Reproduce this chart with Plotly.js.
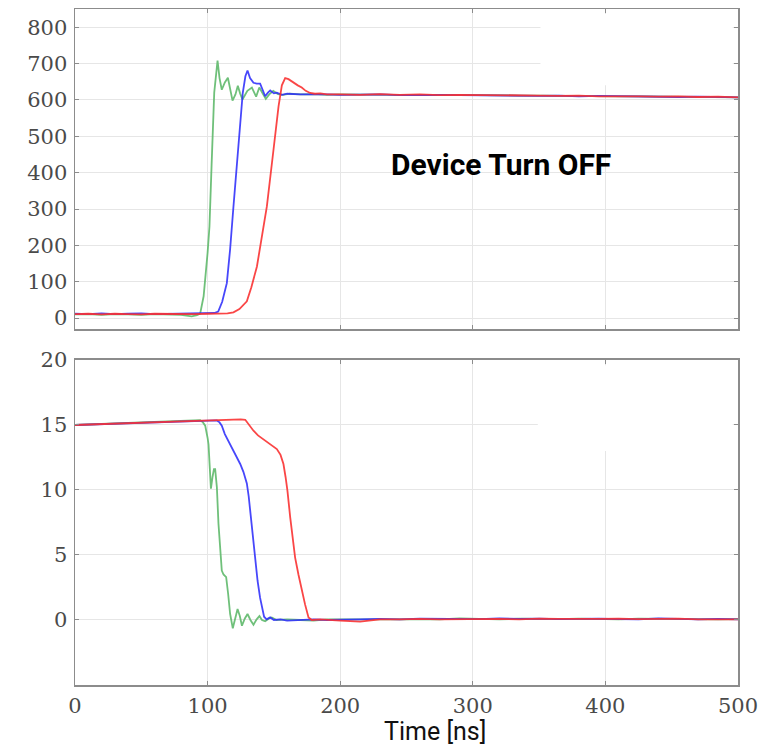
<!DOCTYPE html>
<html>
<head>
<meta charset="utf-8">
<script src="https://cdn.plot.ly/plotly-3.0.1.min.js"></script>
<style>html,body{margin:0;padding:0;background:#fff;}#chart{width:759px;height:748px;}</style>
</head>
<body>
<div id="chart"></div>
<script>
// ---------- Top panel (drain voltage, V) ----------
const tGreenTop = [0,10,20,30,40,50,60,70,80,88,92,94.4,97,100,101.4,103,105,107.5,109,110.7,113,115.3,117,118.8,121,122.8,124.5,126.3,128,130,133.4,136.6,139,141.5,143.9,146.5,149.5,153,157,162,170,180,190];
const vGreenTop = [10,11,9,11,10,9,11,10,9,5,8,12,60,180,252,420,620,708,660,628,648,661,625,598,615,639,618,601,612,625,634,609,634,620,603,615,625,616,614,617,615,616,614];

const tBlueTop = [0,10,20,30,40,50,60,70,80,90,100,105,108,111,114.5,117,119.5,122,124,126.5,128.5,130.1,132,134.6,137,139.6,141.5,143.4,145.5,147.2,150,152.2,156,160,170,180,190];
const vBlueTop = [12,11,13,11,12,13,11,12,11,12,13,14,18,45,96,190,307,410,509,619,665,681,660,647,645,645,628,610,620,626,618,620,614,617,615,616,615];

const tRedTop = [0,10,20,30,40,50,60,70,80,90,100,110,115,119.5,124,129.6,133,137.2,141,144.7,149.7,153.5,156,158.5,161,164.8,168,171,174,177.3,181,185,190];
const vRedTop = [11,12,10,12,11,10,12,11,10,11,12,12,13,16,25,46,85,142,220,307,463,582,640,660,657,647,640,634,625,619,617,618,615];

const tTail = [200,215,230,245,260,275,290,305,320,335,350,365,380,395,410,425,440,455,470,485,500];
const vGreenTopTail = [615,614,615,614,613,614,613,613,612,612,612,611,611,610,610,610,609,609,608,608,607];
const vBlueTopTail  = [614,615,615,613,614,614,613,612,613,612,611,612,610,611,610,609,610,608,609,608,607];
const vRedTopTail   = [615,614,616,614,615,613,614,614,612,613,612,611,612,610,611,610,609,610,608,609,607];

// ---------- Bottom panel (gate voltage, V) ----------
const tGreenBot = [0,20,40,60,80,90,94.4,96.5,98.2,100,100.7,101.6,102.5,103.7,104.8,105.7,107,108.2,109.5,110.7,112,114,115.5,117,119,120.8,122.6,124.3,125.9,128,130.1,132.3,134.6,137,139.1,141,143.4,146,148.4,152,160,170,180,190];
const vGreenBot = [15.0,15.07,15.15,15.22,15.3,15.34,15.38,15.2,14.95,14.0,13.5,11.8,10.1,11.0,11.6,11.6,10.2,7.4,5.5,3.8,3.5,3.3,2.0,0.46,-0.64,0.2,0.85,0.3,-0.44,0.1,0.46,0.0,-0.36,0.05,0.3,0.0,-0.1,0.1,0.2,0.0,0.05,0.0,-0.05,0.05];

const tBlueBot = [0,20,40,60,80,90,100,104,107,109,110.7,113,117,121,124.6,127,129.6,131,132.6,134.3,135.9,137.7,139.6,141,142.6,144.5,147.2,150,155,160,170,180,190];
const vBlueBot = [15.0,15.07,15.15,15.22,15.3,15.33,15.36,15.38,15.35,15.2,14.95,14.3,13.5,12.8,12.0,11.4,10.5,9.5,7.9,6.0,4.3,3.0,1.7,0.9,0.25,0.05,0.2,0.0,0.05,-0.05,0.0,0.05,0.0];

const tRedBot = [0,20,40,60,80,90,100,110,118,125,128.4,131,134.6,138,142.1,147,152.2,155,157.2,158.8,160.2,162.3,164,166,168.5,171.1,173.5,176.1,178.6,185,190];
const vRedBot = [15.0,15.07,15.15,15.22,15.3,15.33,15.36,15.4,15.43,15.43,15.4,15.05,14.56,14.2,13.9,13.55,13.15,12.7,12.0,11.0,9.95,7.9,6.3,4.8,3.5,2.25,1.2,0.2,0.0,0.05,0.0];

const vGreenBotTail = [0.05,0.1,0.05,0.08,0.1,0.05,0.12,0.08,0.05,0.1,0.08,0.06,0.1,0.08,0.05,0.1,0.08,0.06,0.08,0.05,0.06];
const vBlueBotTail  = [0.0,0.05,0.08,0.05,0.1,0.08,0.05,0.06,0.12,0.08,0.1,0.06,0.08,0.1,0.06,0.05,0.12,0.08,0.05,0.08,0.05];
const vRedBotTail   = [-0.05,-0.12,0.05,0.05,0.08,0.05,0.06,0.1,0.08,0.05,0.1,0.08,0.06,0.08,0.1,0.06,0.08,0.1,0.05,0.06,0.05];

const xTicks = [0,100,200,300,400,500];
const yTicksTop = [0,100,200,300,400,500,600,700,800];
const yTicksBot = [0,5,10,15,20];

const GREEN = 'rgba(95,185,108,0.9)';
const BLUE = 'rgba(45,45,250,0.88)';
const RED = 'rgba(250,50,50,0.9)';
const LW = 1.8;

function tr(t, v, tail, color, xa, ya) {
  return {x: t.concat(tTail), y: v.concat(tail), type: 'scatter', mode: 'lines',
          line: {color: color, width: LW}, xaxis: xa, yaxis: ya, hoverinfo: 'skip', showlegend: false};
}

const data = [
  tr(tGreenTop, vGreenTop, vGreenTopTail, GREEN, 'x', 'y'),
  tr(tBlueTop, vBlueTop, vBlueTopTail, BLUE, 'x', 'y'),
  tr(tRedTop, vRedTop, vRedTopTail, RED, 'x', 'y'),
  tr(tGreenBot, vGreenBot, vGreenBotTail, GREEN, 'x2', 'y2'),
  tr(tBlueBot, vBlueBot, vBlueBotTail, BLUE, 'x2', 'y2'),
  tr(tRedBot, vRedBot, vRedBotTail, RED, 'x2', 'y2')
];

const tickFont = {family: 'DejaVu Serif', size: 21, color: '#4a4a4a'};
const axCommon = {
  showline: true, linecolor: '#8c8c8c', linewidth: 1.5, mirror: 'ticks',
  ticks: 'inside', ticklen: 4, tickcolor: '#8c8c8c', tickwidth: 1,
  showgrid: true, gridcolor: '#e6e6e6', gridwidth: 1, zeroline: false,
  tickfont: tickFont
};

const layout = {
  width: 759, height: 748,
  margin: {l: 75, r: 21, t: 9, b: 63},
  paper_bgcolor: '#fff', plot_bgcolor: '#fff',
  showlegend: false,
  xaxis: Object.assign({}, axCommon, {range: [0,500], tickvals: xTicks, showticklabels: false, domain: [0,1], anchor: 'y'}),
  yaxis: Object.assign({}, axCommon, {range: [-30,850], tickvals: yTicksTop, domain: [0.5266,1], anchor: 'x', ticklabelstandoff: 2}),
  xaxis2: Object.assign({}, axCommon, {range: [0,500], tickvals: xTicks, domain: [0,1], anchor: 'y2', ticklabelstandoff: 1}),
  yaxis2: Object.assign({}, axCommon, {range: [-5,20], tickvals: yTicksBot, domain: [0,0.4808], anchor: 'x2', ticklabelstandoff: 2}),
  shapes: [
    {type: 'rect', xref: 'x', yref: 'y', x0: 351, x1: 496, y0: 640, y1: 836, fillcolor: '#fff', line: {width: 0}, layer: 'between'},
    {type: 'rect', xref: 'x2', yref: 'y2', x0: 349, x1: 496, y0: 13.0, y1: 19.6, fillcolor: '#fff', line: {width: 0}, layer: 'between'}
  ],
  annotations: [
    {text: 'Device Turn OFF', xref: 'x', yref: 'y', x: 321, y: 423, xanchor: 'center', yanchor: 'middle',
     showarrow: false, font: {family: 'Roboto', size: 30, color: '#000', weight: 'bold'}},
    {text: 'Time [ns]', xref: 'paper', yref: 'paper', x: 0.543, y: -0.0695, xanchor: 'center', yanchor: 'middle',
     showarrow: false, font: {family: 'Roboto', size: 25, color: '#111'}}
  ]
};

Plotly.newPlot('chart', data, layout, {displayModeBar: false, staticPlot: true});
</script>
</body>
</html>
